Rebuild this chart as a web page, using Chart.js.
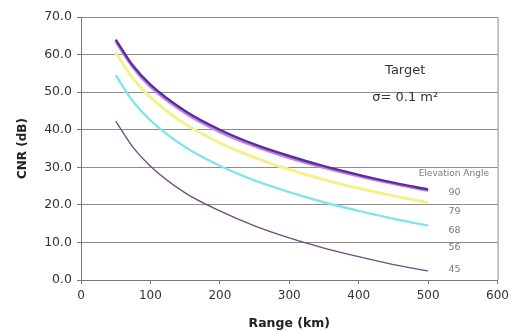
<!DOCTYPE html>
<html>
<head>
<meta charset="utf-8">
<script src="https://cdn.jsdelivr.net/npm/chart.js@4/dist/chart.umd.min.js"></script>
<style>
  html, body { margin: 0; padding: 0; background: #fff; }
  #wrap { width: 514px; height: 331px; }
</style>
</head>
<body>
<div id="wrap"><canvas id="cnr" width="514" height="331"></canvas></div>
<script>
// Range samples (km)
const rangeKm = [50, 75, 100, 150, 200, 250, 300, 350, 400, 450, 500];

// Elevation angles (deg), one curve each
const elevations = ['90', '79', '68', '56', '45'];

// CNR (dB) per elevation angle
const cnr90 = [64.0, 57.0, 52.0, 45.0, 40.0, 36.1, 33.0, 30.3, 28.0, 25.9, 24.1];
const cnr79 = [63.5, 56.5, 51.4, 44.4, 39.4, 35.6, 32.5, 29.9, 27.6, 25.6, 23.8];
const cnr68 = [60.5, 53.6, 48.6, 41.5, 36.5, 32.6, 29.4, 26.7, 24.4, 22.4, 20.6];
const cnr56 = [54.5, 47.5, 42.5, 35.4, 30.4, 26.5, 23.4, 20.7, 18.4, 16.3, 14.5];
const cnr45 = [42.3, 35.3, 30.3, 23.2, 18.4, 14.4, 11.2, 8.5, 6.2, 4.1, 2.4];

// Axis ticks
const xTicks = [0, 100, 200, 300, 400, 500, 600];
const yTicks = [0, 10, 20, 30, 40, 50, 60, 70];

const seriesValues = [cnr90, cnr79, cnr68, cnr56, cnr45];
const seriesColors = ['#5b2f92', '#bf80f0', '#f3f08e', '#80e6ea', '#6f4a80'];
const seriesWidths = [2.4, 2.6, 3.0, 2.4, 1.3];

const FONT = "'DejaVu Sans', 'Liberation Sans', Arial, sans-serif";

const datasets = elevations.map((label, i) => ({
  label,
  data: rangeKm.map((r, k) => ({ x: r, y: seriesValues[i][k] })),
  borderColor: seriesColors[i],
  borderWidth: seriesWidths[i],
  pointRadius: 0,
  fill: false,
  cubicInterpolationMode: 'monotone'
}));

// Frame line, target annotation and the elevation-angle key
const annotations = {
  id: 'annotations',
  afterDraw(chart) {
    const { ctx, chartArea } = chart;
    ctx.save();
    ctx.strokeStyle = '#8a8a8a';
    ctx.lineWidth = 1;
    ctx.beginPath();
    ctx.moveTo(chartArea.right + 0.5, chartArea.top);
    ctx.lineTo(chartArea.right + 0.5, chartArea.bottom);
    ctx.stroke();

    const xs = chart.scales.x, ys = chart.scales.y;
    ctx.fillStyle = '#333';
    ctx.textAlign = 'center';
    ctx.textBaseline = 'middle';
    ctx.font = '13px ' + FONT;
    const cx = xs.getPixelForValue(467);
    ctx.fillText('Target', cx, ys.getPixelForValue(55.7));
    ctx.fillText('\u03c3= 0.1 m\u00b2', cx, ys.getPixelForValue(48.5));

    // key of elevation angles
    ctx.fillStyle = '#7a7a7a';
    ctx.font = '9px ' + FONT;
    const kx = xs.getPixelForValue(537);
    ctx.fillText('Elevation Angle', kx, ys.getPixelForValue(28.2));
    ctx.font = '9.5px ' + FONT;
    const keyY = [23.2, 18.1, 13.1, 8.7, 2.8];
    elevations.forEach((e, i) => {
      ctx.fillText(e, xs.getPixelForValue(538), ys.getPixelForValue(keyY[i]));
    });
    ctx.restore();
  }
};

new Chart(document.getElementById('cnr'), {
  type: 'line',
  data: { datasets },
  plugins: [annotations],
  options: {
    responsive: false,
    animation: false,
    events: [],
    layout: { padding: { left: 0, right: 14, top: 17, bottom: 0 } },
    plugins: { legend: { display: false }, tooltip: { enabled: false } },
    scales: {
      x: {
        type: 'linear',
        min: 0,
        max: 600,
        afterBuildTicks(scale) { scale.ticks = xTicks.map(v => ({ value: v })); },
        afterFit(scale) { scale.height = 51; },
        ticks: {
          color: '#333',
          padding: 5,
          font: { family: FONT, size: 12 },
          callback: v => String(v)
        },
        grid: { drawOnChartArea: false, drawTicks: true, tickLength: 4, tickColor: '#777' },
        border: { display: true, color: '#777', width: 1 },
        title: {
          display: true,
          text: 'Range (km)',
          color: '#222',
          font: { family: FONT, size: 12.5, weight: 'bold' },
          padding: { top: 0, bottom: 0 }
        }
      },
      y: {
        min: 0,
        max: 70,
        afterBuildTicks(scale) { scale.ticks = yTicks.map(v => ({ value: v })); },
        afterFit(scale) { scale.width = 81; },
        ticks: {
          color: '#333',
          padding: 5,
          font: { family: FONT, size: 12.5 },
          callback: v => Number(v).toFixed(1)
        },
        grid: { color: '#8c8c8c', lineWidth: 1, drawTicks: true, tickLength: 4, tickColor: '#777' },
        border: { display: true, color: '#777', width: 1 },
        title: {
          display: true,
          text: 'CNR (dB)',
          color: '#222',
          font: { family: FONT, size: 12, weight: 'bold' },
          padding: { top: 16, bottom: 0 }
        }
      }
    }
  }
});
</script>
</body>
</html>
